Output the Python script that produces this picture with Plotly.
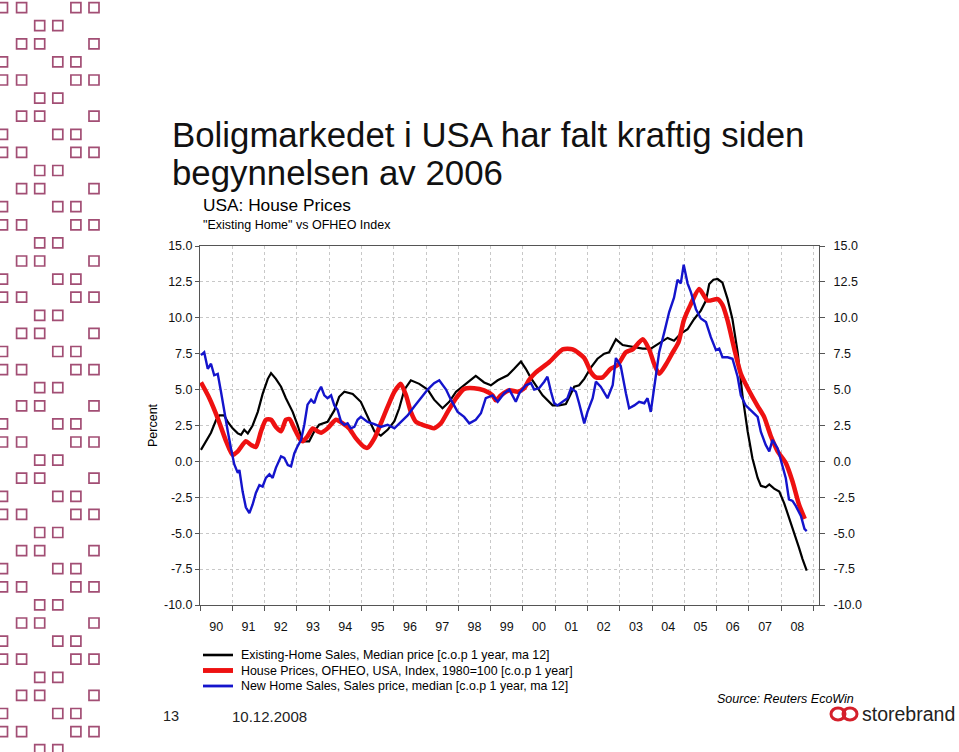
import plotly.graph_objects as go

# ---------------- data ----------------
existing_years = [1990.03, 1990.19, 1990.34, 1990.50, 1990.60, 1990.75, 1990.86, 1991.01, 1991.17, 1991.27,
                  1991.37, 1991.48, 1991.63, 1991.79, 1991.94, 1992.10, 1992.20, 1992.35, 1992.51, 1992.66,
                  1992.87, 1993.02, 1993.18, 1993.38, 1993.54, 1993.69, 1993.95, 1994.16, 1994.31, 1994.47,
                  1994.73, 1994.98, 1995.14, 1995.40, 1995.60, 1995.81, 1996.02, 1996.17, 1996.33, 1996.53,
                  1996.79, 1997.05, 1997.25, 1997.51, 1997.72, 1997.93, 1998.29, 1998.54, 1998.80, 1999.01,
                  1999.22, 1999.53, 1999.73, 1999.94, 2000.09, 2000.25, 2000.61, 2000.92, 2001.12, 2001.33,
                  2001.59, 2001.74, 2001.90, 2002.11, 2002.31, 2002.52, 2002.67, 2002.88, 2003.09, 2003.40,
                  2003.71, 2003.96, 2004.22, 2004.48, 2004.68, 2004.89, 2005.10, 2005.30, 2005.51, 2005.67,
                  2005.77, 2005.90, 2006.03, 2006.18, 2006.34, 2006.49, 2006.65, 2006.80, 2006.96, 2007.11,
                  2007.27, 2007.37, 2007.52, 2007.63, 2007.78, 2007.94, 2008.09, 2008.24, 2008.40, 2008.55,
                  2008.66, 2008.79]
existing_vals = [0.8, 1.4, 2.0, 2.9, 3.2, 3.2, 2.75, 2.3, 1.95, 1.85,
                 2.2, 1.95, 2.5, 3.45, 4.7, 5.75, 6.15, 5.75, 5.2, 4.4,
                 3.45, 2.55, 1.4, 1.4, 2.1, 2.55, 2.75, 3.55, 4.5, 4.85,
                 4.7, 4.15, 3.35, 2.1, 1.8, 2.2, 2.8, 3.7, 5.0, 5.65,
                 5.4, 5.0, 4.3, 3.7, 4.15, 4.85, 5.5, 5.95, 5.5, 5.3,
                 5.65, 6.0, 6.45, 6.95, 6.45, 5.8, 4.6, 3.9, 3.9, 4.0,
                 5.2, 5.3, 5.75, 6.55, 7.15, 7.5, 7.6, 8.5, 8.1, 7.95,
                 7.85, 7.85, 8.2, 8.6, 8.4, 8.9, 9.2, 9.9, 10.5, 11.2,
                 12.35, 12.65, 12.7, 12.45, 11.3, 9.9, 7.6, 4.6, 2.1, 0.2,
                 -1.15, -1.7, -1.8, -1.6, -1.9, -2.1, -2.9, -3.9, -4.85, -6.0,
                 -6.8, -7.6]

ofheo_years = [1990.03, 1990.29, 1990.55, 1990.81, 1991.01, 1991.17, 1991.42, 1991.58, 1991.73, 1991.89,
               1992.04, 1992.20, 1992.35, 1992.51, 1992.66, 1992.77, 1992.92, 1993.08, 1993.18, 1993.33,
               1993.49, 1993.64, 1993.75, 1993.95, 1994.21, 1994.42, 1994.62, 1994.83, 1995.09, 1995.19,
               1995.40, 1995.60, 1995.81, 1996.02, 1996.22, 1996.38, 1996.53, 1996.69, 1996.89, 1997.10,
               1997.25, 1997.46, 1997.67, 1997.93, 1998.18, 1998.49, 1998.80, 1999.06, 1999.16, 1999.32,
               1999.58, 1999.84, 2000.04, 2000.20, 2000.40, 2000.81, 2001.23, 2001.54, 2001.90, 2002.11,
               2002.26, 2002.47, 2002.72, 2002.93, 2003.19, 2003.40, 2003.71, 2003.91, 2004.07, 2004.22,
               2004.43, 2004.63, 2004.82, 2004.98, 2005.19, 2005.46, 2005.72, 2006.03, 2006.18, 2006.34,
               2006.55, 2006.75, 2007.01, 2007.27, 2007.47, 2007.68, 2007.89, 2008.14, 2008.35, 2008.55,
               2008.73]
ofheo_vals = [5.5, 4.4, 3.0, 1.4, 0.45, 0.7, 1.4, 1.15, 1.0, 2.1,
              2.9, 2.9, 2.4, 2.1, 2.9, 2.95, 2.3, 1.6, 1.4, 1.75,
              2.3, 2.1, 2.0, 2.3, 2.9, 2.65, 2.3, 1.6, 1.0, 0.95,
              1.6, 2.65, 3.8, 4.85, 5.4, 4.6, 3.45, 2.75, 2.55, 2.4,
              2.3, 2.65, 3.45, 4.4, 5.05, 5.1, 4.95, 4.6, 4.25, 4.6,
              4.95, 4.85, 5.1, 5.7, 6.2, 6.9, 7.8, 7.8, 7.2, 6.2,
              5.85, 5.85, 6.45, 6.7, 7.6, 7.8, 8.5, 7.8, 6.75, 6.1,
              6.75, 7.55, 8.3, 9.8, 10.9, 12.0, 11.2, 11.3, 10.9, 9.8,
              7.8, 6.1, 4.9, 3.85, 3.1, 1.75, 0.7, -0.1, -1.4, -3.0,
              -4.0]

newhome_years = [1990.03, 1990.13, 1990.24, 1990.34, 1990.44, 1990.55, 1990.65, 1990.75, 1990.86, 1990.96,
                 1991.06, 1991.17, 1991.22, 1991.32, 1991.42, 1991.53, 1991.63, 1991.73, 1991.84, 1991.94,
                 1992.04, 1992.15, 1992.25, 1992.35, 1992.51, 1992.61, 1992.72, 1992.82, 1992.92, 1993.02,
                 1993.13, 1993.23, 1993.33, 1993.44, 1993.54, 1993.64, 1993.75, 1993.85, 1993.95, 1994.06,
                 1994.16, 1994.26, 1994.37, 1994.47, 1994.57, 1994.67, 1994.78, 1994.88, 1994.98, 1995.19,
                 1995.40, 1995.60, 1995.81, 1996.02, 1996.22, 1996.43, 1996.63, 1996.84, 1997.05, 1997.25,
                 1997.41, 1997.62, 1997.77, 1997.98, 1998.18, 1998.34, 1998.54, 1998.70, 1998.85, 1999.06,
                 1999.22, 1999.42, 1999.58, 1999.78, 1999.89, 2000.09, 2000.25, 2000.35, 2000.50, 2000.66,
                 2000.76, 2000.87, 2000.97, 2001.07, 2001.23, 2001.38, 2001.49, 2001.64, 2001.74, 2001.90,
                 2002.00, 2002.16, 2002.26, 2002.41, 2002.62, 2002.78, 2002.88, 2003.03, 2003.19, 2003.29,
                 2003.45, 2003.60, 2003.76, 2003.86, 2003.96, 2004.07, 2004.22, 2004.38, 2004.53, 2004.68,
                 2004.79, 2004.89, 2004.98, 2005.10, 2005.20, 2005.36, 2005.51, 2005.67, 2005.82, 2005.98,
                 2006.08, 2006.18, 2006.34, 2006.49, 2006.65, 2006.75, 2006.90, 2007.06, 2007.27, 2007.37,
                 2007.52, 2007.63, 2007.73, 2007.89, 2008.04, 2008.14, 2008.24, 2008.35, 2008.45, 2008.61,
                 2008.72, 2008.79]
newhome_vals = [7.4, 7.6, 6.45, 6.8, 6.0, 6.1, 4.85, 3.45, 2.1, 0.9,
                -0.2, -0.8, -0.6, -2.1, -3.2, -3.6, -3.0, -2.2, -1.65, -1.75,
                -1.15, -0.9, -1.15, -0.45, 0.35, 0.25, -0.25, -0.35, 0.55, 1.05,
                1.5, 2.55, 3.95, 4.3, 4.05, 4.75, 5.2, 4.6, 4.4, 4.6,
                3.9, 3.6, 2.75, 2.55, 2.65, 2.3, 2.4, 2.9, 3.1, 2.75,
                2.6, 2.4, 2.55, 2.3, 2.75, 3.2, 3.8, 4.4, 5.0, 5.45,
                5.65, 5.0, 4.3, 3.45, 3.1, 2.65, 2.9, 3.35, 4.4, 4.6,
                4.15, 4.75, 5.0, 4.15, 4.75, 5.3, 5.45, 5.0, 5.1, 5.55,
                5.9, 4.85, 4.05, 3.9, 4.15, 4.4, 5.1, 4.85, 4.05, 2.65,
                3.45, 4.4, 5.55, 5.2, 4.4, 5.3, 7.2, 6.65, 4.75, 3.7,
                3.9, 4.15, 4.05, 4.4, 3.45, 5.3, 7.6, 9.0, 10.4, 11.4,
                12.65, 12.4, 13.7, 12.4, 11.8, 10.6, 9.95, 9.7, 8.65, 7.75,
                7.85, 7.25, 7.25, 7.15, 5.9, 4.6, 3.9, 3.55, 3.1, 2.05,
                1.15, 0.7, 1.5, 0.9, -0.45, -1.15, -2.65, -2.75, -3.1, -3.8,
                -4.7, -4.85]

series_names = ["Existing-Home Sales, Median price [c.o.p 1 year, ma 12]",
                "House Prices, OFHEO, USA, Index, 1980=100 [c.o.p 1 year]",
                "New Home Sales, Sales price, median [c.o.p 1 year, ma 12]"]
series_colors = ["#000000", "#ee1111", "#1414cc"]
series_widths = [2.2, 4.5, 2.4]

year_labels = ["90", "91", "92", "93", "94", "95", "96", "97", "98", "99",
               "00", "01", "02", "03", "04", "05", "06", "07", "08"]
year_starts = list(range(1990, 2010))
y_ticks = [15.0, 12.5, 10.0, 7.5, 5.0, 2.5, 0.0, -2.5, -5.0, -7.5, -10.0]
y_tick_labels = ["15.0", "12.5", "10.0", "7.5", "5.0", "2.5", "0.0", "-2.5", "-5.0", "-7.5", "-10.0"]

# ---------------- layout geometry ----------------
W, H = 959, 752
PL, PR, PT, PB = 200, 819, 246, 605
FONT = "Liberation Sans, Arial, Helvetica, sans-serif"


def px(x):
    return (x - PL) / (PR - PL)


def py(y):
    return (PB - y) / (PB - PT)


fig = go.Figure()
fig.add_trace(go.Scatter(x=existing_years, y=existing_vals, mode="lines", name=series_names[0],
                         line=dict(color=series_colors[0], width=series_widths[0])))
fig.add_trace(go.Scatter(x=ofheo_years, y=ofheo_vals, mode="lines", name=series_names[1],
                         line=dict(color=series_colors[1], width=series_widths[1],
                                   shape="spline", smoothing=0.6)))
fig.add_trace(go.Scatter(x=newhome_years, y=newhome_vals, mode="lines", name=series_names[2],
                         line=dict(color=series_colors[2], width=series_widths[2])))

grid_col = "#c8c8c8"
axis_col = "#555555"
tick_font = dict(family=FONT, size=12.5, color="#111111")

fig.update_layout(
    width=W, height=H,
    margin=dict(l=PL, r=W - PR, t=PT, b=H - PB, pad=0),
    paper_bgcolor="white", plot_bgcolor="white",
    font=dict(family=FONT, color="#111111"),
    showlegend=False,
    xaxis=dict(range=[1990, 2009.17], tickmode="array",
               tickvals=[y + 0.5 for y in year_starts[:-1]], ticktext=year_labels,
               ticks="", showgrid=False, zeroline=False, tickfont=tick_font,
               ticklabelstandoff=10,
               showline=True, linecolor=axis_col, linewidth=1, mirror=True,
               minor=dict(tickmode="array", tickvals=year_starts, ticks="outside", ticklen=5,
                          tickcolor=axis_col, showgrid=True, gridcolor=grid_col, griddash="dot",
                          gridwidth=1)),
    yaxis=dict(range=[-10, 15], tickmode="array", tickvals=y_ticks, ticktext=y_tick_labels,
               ticks="outside", ticklen=4, tickcolor=axis_col, showgrid=True, gridcolor=grid_col,
               griddash="dot", zeroline=False, showline=True, linecolor=axis_col, linewidth=1,
               tickfont=tick_font),
    yaxis2=dict(range=[-10, 15], overlaying="y", side="right", tickmode="array", tickvals=y_ticks,
                ticktext=y_tick_labels, ticks="outside", ticklen=5, tickcolor=axis_col,
                showgrid=False, zeroline=False, showline=True, linecolor=axis_col,
                tickfont=tick_font, ticklabelstandoff=6),
)

# invisible anchor trace for the right axis
fig.add_trace(go.Scatter(x=[1990], y=[0], yaxis="y2", mode="markers", marker=dict(opacity=0),
                         showlegend=False, hoverinfo="skip"))

ann = []
ann.append(dict(text="Boligmarkedet i USA har falt kraftig siden", x=px(170), y=py(134),
                xanchor="left", yanchor="middle", font=dict(family=FONT, size=34.8, color="#111111")))
ann.append(dict(text="begynnelsen av 2006", x=px(170), y=py(172),
                xanchor="left", yanchor="middle", font=dict(family=FONT, size=34.8, color="#111111")))
ann.append(dict(text="USA: House Prices", x=px(201), y=py(205), xanchor="left", yanchor="middle",
                font=dict(family=FONT, size=17.3, color="#000000")))
ann.append(dict(text="\"Existing Home\" vs OFHEO Index", x=px(201), y=py(225), xanchor="left",
                yanchor="middle", font=dict(family=FONT, size=12.5, color="#000000")))
ann.append(dict(text="Percent", x=px(153), y=py(425), xanchor="center", yanchor="middle",
                textangle=-90, font=dict(family=FONT, size=12.5, color="#000000")))
ann.append(dict(text="13", x=px(171), y=py(716), xanchor="center", yanchor="middle",
                font=dict(family=FONT, size=14.5, color="#222222")))
ann.append(dict(text="10.12.2008", x=px(230), y=py(716), xanchor="left", yanchor="middle",
                font=dict(family=FONT, size=15, color="#222222")))
ann.append(dict(text="<i>Source: Reuters EcoWin</i>", x=px(715), y=py(699), xanchor="left",
                yanchor="middle", font=dict(family=FONT, size=12.5, color="#000000")))
ann.append(dict(text="storebrand", x=px(860), y=py(714), xanchor="left", yanchor="middle",
                font=dict(family=FONT, size=19.5, color="#222222")))
# legend text
legend_rows = [655, 670.5, 686]
for name, ly in zip(series_names, legend_rows):
    ann.append(dict(text=name, x=px(239), y=py(ly), xanchor="left", yanchor="middle",
                    font=dict(family=FONT, size=12.4, color="#000000")))
for a in ann:
    a.update(xref="paper", yref="paper", showarrow=False)
fig.update_layout(annotations=ann)

shapes = []
# legend line samples
for col, wd, ly in zip(series_colors, series_widths, legend_rows):
    shapes.append(dict(type="line", xref="paper", yref="paper", x0=px(203), x1=px(233),
                       y0=py(ly), y1=py(ly), line=dict(color=col, width=wd + 0.4)))
# storebrand logo mark
for x0 in (831, 843):
    shapes.append(dict(type="circle", xref="paper", yref="paper", x0=px(x0), x1=px(x0 + 14),
                       y0=py(720), y1=py(708), line=dict(color="#d4202b", width=3)))

# decorative square pattern on the left
pattern_rows = [[0, 1, 4, 5], [2, 3], [1, 2, 5], [0, 3, 4]]
sq_col = "#a24e74"
for k in range(42):
    top = 2.6 + 18.1 * k
    for c in pattern_rows[k % 4]:
        left = -1.5 + 18.1 * c if c > 0 else -2.5
        shapes.append(dict(type="rect", xref="paper", yref="paper",
                           x0=px(left), x1=px(left + 10), y0=py(top + 10), y1=py(top),
                           line=dict(color=sq_col, width=1.7), fillcolor="rgba(0,0,0,0)"))
fig.update_layout(shapes=shapes)

fig.write_html("out.html", config={"displayModeBar": False},
               post_script="document.body.style.margin='0';document.body.style.overflow='hidden';")
